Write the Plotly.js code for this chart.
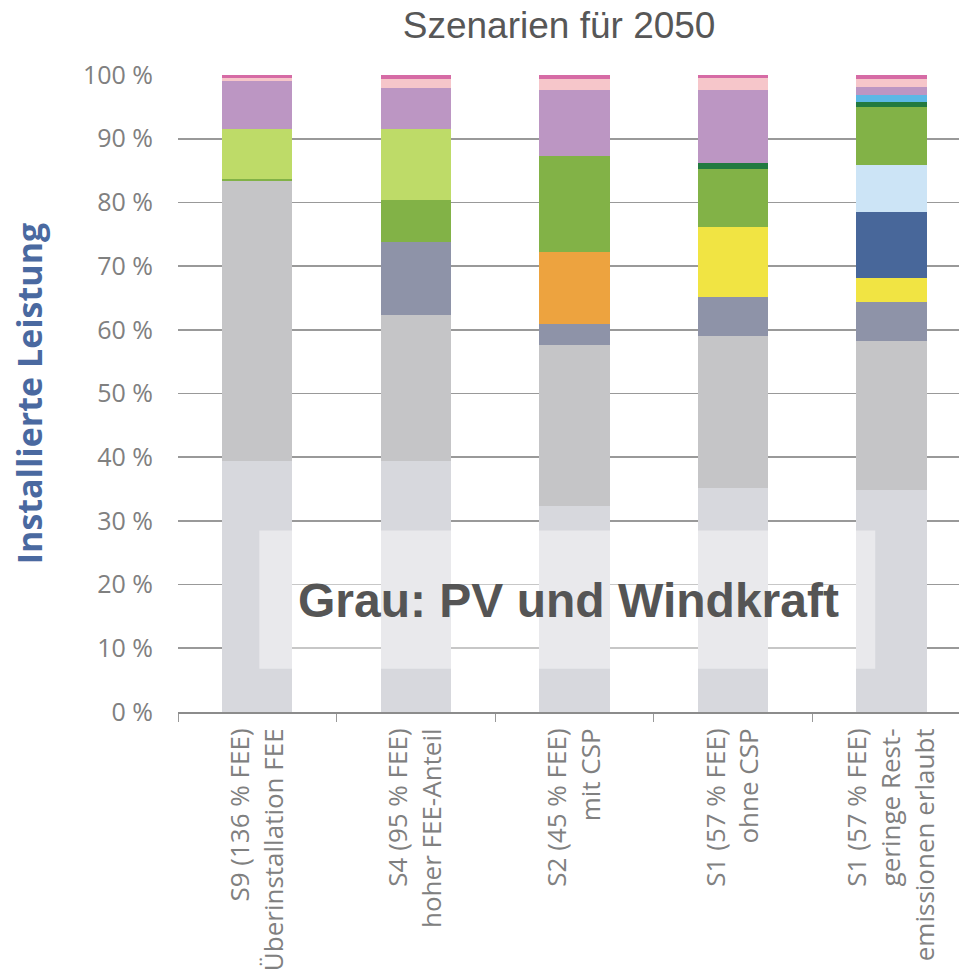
<!DOCTYPE html>
<html>
<head>
<meta charset="utf-8">
<script src="https://cdn.plot.ly/plotly-3.0.1.min.js"></script>
<style>
  html, body { margin: 0; padding: 0; background: #ffffff; }
  #chart { width: 959px; height: 971px; }
</style>
</head>
<body>
<div id="chart"></div>
<script>
// Categories (scenarios)
const categories = [
  "S9 (136 % FEE)<br>Überinstallation FEE",
  "S4 (95 % FEE)<br>hoher FEE-Anteil",
  "S2 (45 % FEE)<br>mit CSP",
  "S1 (57 % FEE)<br>ohne CSP",
  "S1 (57 % FEE)<br>geringe Rest-<br>emissionen erlaubt"
];

// Series values (share of installed capacity, %), bottom to top
const hellgrau   = [39.4, 39.4, 32.3, 35.1, 34.9];
const grau       = [44.0, 22.9, 25.3, 23.9, 23.4];
const blaugrau   = [0.0, 11.5, 3.3, 6.1, 6.1];
const orange     = [0.0, 0.0, 11.3, 0.0, 0.0];
const gelb       = [0.0, 0.0, 0.0, 11.0, 3.7];
const dunkelblau = [0.0, 0.0, 0.0, 0.0, 10.4];
const hellblau   = [0.0, 0.0, 0.0, 0.0, 7.3];
const gruen      = [0.3, 6.6, 15.1, 9.1, 9.1];
const dunkelgruen= [0.0, 0.0, 0.0, 1.0, 0.9];
const hellgruen  = [7.9, 11.2, 0.0, 0.0, 0.0];
const himmelblau = [0.0, 0.0, 0.0, 0.0, 1.0];
const lila       = [7.5, 6.4, 10.3, 11.5, 1.3];
const rosa       = [0.5, 1.4, 1.8, 1.8, 1.3];
const pink       = [0.4, 0.6, 0.6, 0.6, 0.6];

// Y tick labels
const yTickVals  = [0, 10, 20, 30, 40, 50, 60, 70, 80, 90, 100];
const yTickText  = ["0 %", "10 %", "20 %", "30 %", "40 %", "50 %", "60 %", "70 %", "80 %", "90 %", "100 %"];

const titleText  = "Szenarien für 2050";
const yTitleText = "Installierte Leistung";
const noteText   = "Grau: PV und Windkraft";

const series = [
  {name: "hellgrau",    values: hellgrau,    color: "#d7d8dd"},
  {name: "grau",        values: grau,        color: "#c5c5c7"},
  {name: "blaugrau",    values: blaugrau,    color: "#8e93a8"},
  {name: "orange",      values: orange,      color: "#eda33f"},
  {name: "gelb",        values: gelb,        color: "#f1e443"},
  {name: "dunkelblau",  values: dunkelblau,  color: "#48679a"},
  {name: "hellblau",    values: hellblau,    color: "#cce4f6"},
  {name: "gruen",       values: gruen,       color: "#82b247"},
  {name: "dunkelgruen", values: dunkelgruen, color: "#227a40"},
  {name: "hellgruen",   values: hellgruen,   color: "#bedb68"},
  {name: "himmelblau",  values: himmelblau,  color: "#5bb8e6"},
  {name: "lila",        values: lila,        color: "#bc96c3"},
  {name: "rosa",        values: rosa,        color: "#f6c6ca"},
  {name: "pink",        values: pink,        color: "#d66ba5"}
];

const traces = series.map(s => ({
  type: "bar",
  x: categories,
  y: s.values,
  name: s.name,
  marker: {color: s.color, line: {width: 0}},
  hoverinfo: "skip"
}));

const layout = {
  width: 959,
  height: 971,
  barmode: "stack",
  bargap: 0.556,
  showlegend: false,
  paper_bgcolor: "#ffffff",
  plot_bgcolor: "#ffffff",
  margin: {l: 178, r: 0, t: 75, b: 258.5, pad: 0},
  title: {
    text: titleText,
    font: {family: "Liberation Sans, Arial, sans-serif", size: 37, color: "#575757"},
    x: 0.488, xref: "paper", xanchor: "center",
    y: 0.974, yref: "container", yanchor: "middle"
  },
  xaxis: {
    type: "category",
    range: [-0.5, 4.425],
    showgrid: false,
    showline: true,
    linecolor: "#8c8c8c",
    linewidth: 2,
    ticks: "outside",
    tickson: "boundaries",
    ticklen: 8,
    tickcolor: "#999999",
    tickwidth: 1,
    tickangle: -90,
    ticklabelstandoff: 4,
    tickfont: {family: "Open Sans, sans-serif", size: 26, color: "#808080"},
    zeroline: false,
    fixedrange: true
  },
  yaxis: {
    range: [0, 100],
    tickvals: yTickVals,
    ticktext: yTickText,
    showgrid: true,
    gridcolor: "#999999",
    gridwidth: 1.6,
    zeroline: false,
    showline: false,
    ticks: "",
    ticklabelstandoff: 24,
    tickfont: {family: "Open Sans, sans-serif", size: 25, color: "#808080"},
    title: {
      text: yTitleText,
      font: {family: "Open Sans, sans-serif", size: 34, color: "#4a69a0", weight: "bold"},
      standoff: 30
    },
    fixedrange: true
  },
  shapes: [{
    type: "rect",
    xref: "x", yref: "y",
    x0: 0.013, x1: 3.897,
    y0: 6.8, y1: 28.5,
    fillcolor: "rgba(255,255,255,0.45)",
    line: {width: 0},
    layer: "above"
  }],
  annotations: [{
    text: "<b>" + noteText + "</b>",
    xref: "x", yref: "y",
    x: 1.96, y: 17.5,
    xanchor: "center", yanchor: "middle",
    showarrow: false,
    font: {family: "Liberation Sans, Arial, sans-serif", size: 48, color: "#555555"}
  }]
};

Plotly.newPlot("chart", traces, layout, {displayModeBar: false, staticPlot: true});
</script>
</body>
</html>
